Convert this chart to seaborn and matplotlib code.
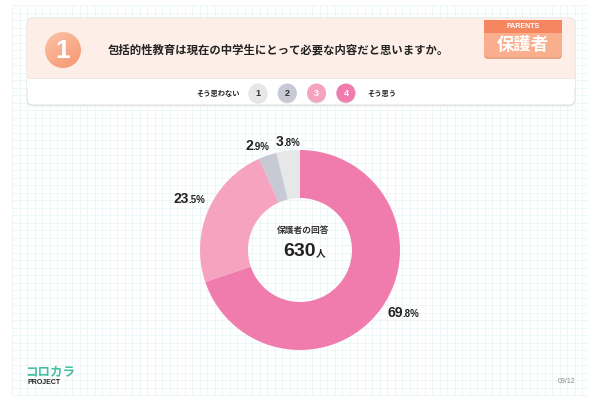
import numpy as np
import matplotlib
matplotlib.use("Agg")
import matplotlib.pyplot as plt
import seaborn as sns
from matplotlib.patches import FancyBboxPatch, Circle, Rectangle
from matplotlib.colors import LinearSegmentedColormap

# --- data -----------------------------------------------------------------
QUESTION_NO = "1"
QUESTION = "包括的性教育は現在の中学生にとって必要な内容だと思いますか。"
GROUP_EN = "PARENTS"
GROUP_JA = "保護者"
SCALE_LOW = "そう思わない"
SCALE_HIGH = "そう思う"
scale_levels = ["1", "2", "3", "4"]

# donut slices, counter-clockwise from 12 o'clock
answer_levels = ["1", "2", "3", "4"]
answer_share = [3.8, 2.9, 23.5, 69.8]

CENTER_TITLE = "保護者の回答"
respondents = 630
RESP_UNIT = "人"
BRAND = "コロカラ"
BRAND_SUB = "PROJECT"
PAGE = "09/12"

# --- style ----------------------------------------------------------------
sns.set_theme(style="white")
plt.rcParams["font.family"] = ["Noto Sans CJK JP", "DejaVu Sans"]
NUM_FONT = ["Liberation Sans", "DejaVu Sans"]

level_colors = sns.color_palette(["#e7e7e9", "#c7c9d5", "#f5a3bf", "#f07cae"])
level_text = ["#333333", "#333333", "white", "white"]
DARK = "#222222"

# label placement per slice: (radius factor, angle nudge in degrees)
label_layout = [(1.10, 1.6), (1.15, 5.2), (1.225, -1.5), (1.207, 4.2)]

fig = plt.figure(figsize=(6, 4), dpi=100)
bg = fig.add_axes([0, 0, 1, 1])
bg.set_xlim(0, 600)
bg.set_ylim(400, 0)
bg.axis("off")

# graph-paper background
bg.vlines(np.arange(12, 589, 7.5), 5, 395, color="#e8f4f4", lw=0.5, zorder=0)
bg.hlines(np.arange(5, 396, 7.5), 12, 588, color="#e8f4f4", lw=0.5, zorder=0)

# header card (shadow, white base, peach top)
bg.add_patch(FancyBboxPatch((27, 19.5), 548, 87, boxstyle="round,pad=0,rounding_size=6",
                            fc="#d8d8d8", ec="none", alpha=0.5, zorder=1))
bg.add_patch(FancyBboxPatch((27, 18), 548, 87, boxstyle="round,pad=0,rounding_size=6",
                            fc="white", ec="#e2e2e2", lw=0.8, zorder=2))
bg.add_patch(FancyBboxPatch((27.4, 18.4), 547.2, 66, boxstyle="round,pad=0,rounding_size=6",
                            fc="#fdeee7", ec="none", zorder=3))
bg.add_patch(Rectangle((27.4, 78), 547.2, 10, fc="white", ec="none", zorder=4))
bg.plot([27.5, 574.5], [78, 78], color="#f0e2dc", lw=0.6, zorder=5)

# question number bubble with soft gradient
grad = LinearSegmentedColormap.from_list("peach", ["#fcc4a7", "#f59570"])
yy, xx = np.mgrid[0:1:64j, 0:1:64j]
im = bg.imshow(0.6 * yy + 0.4 * xx, cmap=grad, extent=(45, 81, 68, 32),
               aspect="auto", zorder=6)
bubble = Circle((63, 50), 18, transform=bg.transData)
im.set_clip_path(bubble)
bg.text(63, 51, QUESTION_NO, color="white", fontsize=19, fontweight="bold",
        ha="center", va="center", family=NUM_FONT, zorder=7)

bg.text(108, 50, QUESTION, fontsize=8.2, fontweight="bold", color=DARK,
        ha="left", va="center", zorder=7)

# respondent group badge
bg.add_patch(FancyBboxPatch((484, 22), 78, 37, boxstyle="round,pad=0,rounding_size=4",
                            fc="#e9a384", ec="none", zorder=6))
bg.add_patch(FancyBboxPatch((484, 20), 78, 37, boxstyle="round,pad=0,rounding_size=4",
                            fc="#f9ae8d", ec="none", zorder=7))
bg.add_patch(Rectangle((484, 20), 78, 13, fc="#f5865f", ec="none", zorder=8))
bg.text(523, 26.5, GROUP_EN, color="white", fontsize=5, fontweight="bold",
        ha="center", va="center", family=NUM_FONT, zorder=9)
bg.text(523, 45.5, GROUP_JA, color="white", fontsize=12.5, fontweight="bold",
        ha="center", va="center", zorder=9)

# answer scale legend
bg.text(240, 93, SCALE_LOW, fontsize=5.2, fontweight="bold", color=DARK,
        ha="right", va="center", zorder=7)
for i, (lvl, col, tc) in enumerate(zip(scale_levels, level_colors, level_text)):
    cx = 258 + i * 29.3
    bg.add_patch(Circle((cx, 94), 9.5, fc="#bdbdbd", ec="none", alpha=0.5, zorder=6))
    bg.add_patch(Circle((cx, 93), 9.5, fc=col, ec="none", zorder=7))
    bg.text(cx, 93.3, lvl, color=tc, fontsize=6.5, fontweight="bold",
            ha="center", va="center", family=NUM_FONT, zorder=8)
bg.text(367, 93, SCALE_HIGH, fontsize=5.2, fontweight="bold", color=DARK,
        ha="left", va="center", zorder=7)

# footer
bg.text(25, 372, BRAND, color="#45c0a3", fontsize=9, fontweight="bold",
        ha="left", va="center")
bg.text(27, 382.5, BRAND_SUB, color=DARK, fontsize=5, fontweight="bold",
        ha="left", va="center", family=NUM_FONT)
bg.text(575, 381.5, PAGE, color="#888888", fontsize=5, ha="right", va="center",
        family=NUM_FONT)

# --- donut ----------------------------------------------------------------
ax = fig.add_axes([170 / 600, 20 / 400, 260 / 600, 260 / 400])
wedges, _ = ax.pie(answer_share, colors=level_colors, startangle=90, counterclock=True,
                   radius=1, wedgeprops=dict(width=0.48, edgecolor="none"))
ax.set_xlim(-1.3, 1.3)
ax.set_ylim(-1.3, 1.3)
ax.set_aspect("equal")
ax.axis("off")

for w, v, (r, nudge) in zip(wedges, answer_share, label_layout):
    theta = np.deg2rad((w.theta1 + w.theta2) / 2 + nudge)
    x, y = r * np.cos(theta), r * np.sin(theta)
    whole, frac = f"{v:.1f}".split(".")
    ax.text(x, y - 0.045, whole, fontsize=10, fontweight="bold", color=DARK,
            ha="right", va="baseline", family=NUM_FONT)
    ax.text(x - 0.006, y - 0.045, f".{frac}%", fontsize=7, fontweight="bold", color=DARK,
            ha="left", va="baseline", family=NUM_FONT)

ax.text(0.03, 0.2, CENTER_TITLE, fontsize=6.3, fontweight="bold", color="#333333",
        ha="center", va="center")
ax.text(0.16, -0.065, f"{respondents}", fontsize=14, fontweight="bold", color=DARK,
        ha="right", va="baseline", family=NUM_FONT)
ax.text(0.16, -0.065, RESP_UNIT, fontsize=7, fontweight="bold", color=DARK,
        ha="left", va="baseline")

fig.savefig("out.png", dpi=100)
